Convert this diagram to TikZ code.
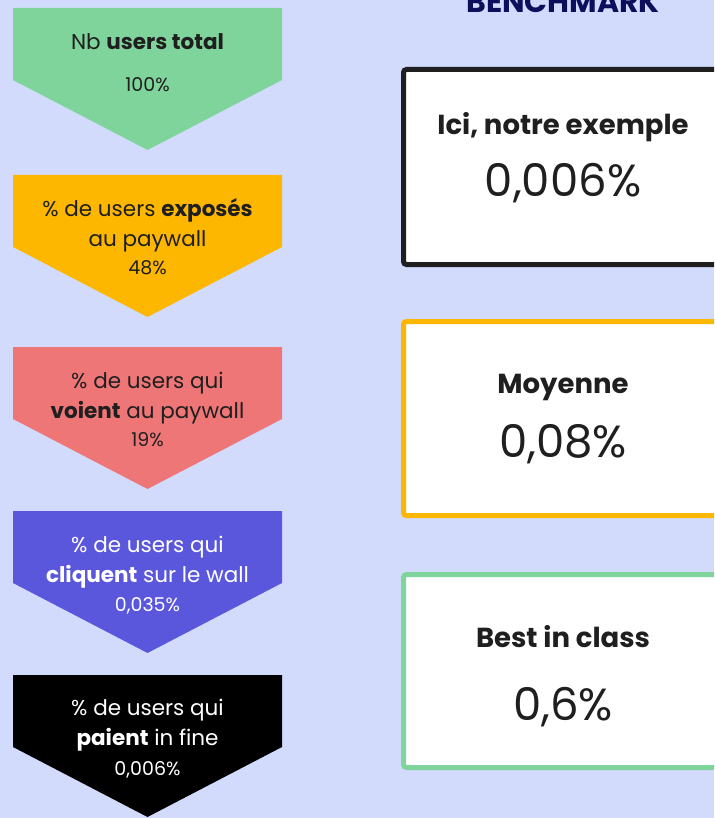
\documentclass[tikz,border=0pt]{standalone}
\usepackage{fontspec}
\setmainfont{Poppins}
\usetikzlibrary{positioning}

\definecolor{bgblue}{HTML}{D2DBFC}
\definecolor{stepgreen}{HTML}{7FD49B}
\definecolor{steporange}{HTML}{FDB700}
\definecolor{stepred}{HTML}{EF7676}
\definecolor{steppurple}{HTML}{5B57DD}
\definecolor{textdark}{HTML}{1F1F1F}
\definecolor{navy}{HTML}{0D0F5C}

\begin{document}
\begin{tikzpicture}[
    x=1pt, y=-1pt,
    steplabel/.style={
        align=center,
        inner sep=0pt,
        anchor=base,
        font=\fontsize{21.5}{30}\selectfont
    },
    steppct/.style={
        inner sep=0pt,
        anchor=base,
        font=\fontsize{19}{22}\selectfont
    },
    bench/.style={
        rectangle,
        line width=5pt,
        fill=white,
        rounded corners=3pt,
        outer sep=0pt,
        anchor=north west,
        minimum width=340pt
    },
    benchtitle/.style={
        inner sep=0pt,
        anchor=base,
        text=textdark,
        font=\fontsize{27.5}{32}\selectfont\bfseries
    },
    benchvalue/.style={
        inner sep=0pt,
        anchor=base,
        text=textdark,
        font=\fontsize{45}{50}\selectfont
    }
]
    % Background and frame
    \fill[bgblue] (0,0) rectangle (714,818);
    \useasboundingbox (0,0) rectangle (714,818);
    \clip (0,0) rectangle (714,818);

    % Funnel steps
    \foreach \top/\col in {8/stepgreen, 175/steporange, 347/stepred, 511/steppurple, 675/black}
        \fill[\col] (13,\top) -- (282,\top) -- (282,\top+72) -- (147.5,\top+142) -- (13,\top+72) -- cycle;

    % (multi-line labels sit on the baseline of their last line)
    \node[steplabel, text=textdark] (total) at (147.5,50) {Nb \textbf{users total}};
    \node[steppct, text=textdark] (totalPct) at (147.5,92) {100\%};

    \node[steplabel, text=textdark] (exposes) at (147.5,247) {\% de users \textbf{exposés}\\au paywall};
    \node[steppct, text=textdark] (exposesPct) at (147.5,274) {48\%};

    \node[steplabel, text=textdark] (voient) at (147.5,418) {\% de users qui\\\textbf{voient} au paywall};
    \node[steppct, text=textdark] (voientPct) at (147.5,446) {19\%};

    \node[steplabel, text=white] (cliquent) at (147.5,582) {\% de users qui\\\textbf{cliquent} sur le wall};
    \node[steppct, text=white] (cliquentPct) at (147.5,611) {0,035\%};

    \node[steplabel, text=white] (paient) at (147.5,745) {\% de users qui\\\textbf{paient} in fine};
    \node[steppct, text=white] (paientPct) at (147.5,775) {0,006\%};

    % Benchmark column
    \node[font=\fontsize{30}{34}\selectfont\bfseries, text=navy, inner sep=0pt, anchor=base] (benchmark) at (563,13) {BENCHMARK};

    \node[bench, draw=textdark, minimum height=195pt] (exemple) at (403.5,69.5) {};
    \node[benchtitle] (exempleTitle) at (563,135) {Ici, notre exemple};
    \node[benchvalue] (exempleValue) at (563,197) {0,006\%};

    \node[bench, draw=steporange, minimum height=194pt] (moyenne) at (403.5,321.5) {};
    \node[benchtitle] (moyenneTitle) at (563,393) {Moyenne};
    \node[benchvalue] (moyenneValue) at (563,457) {0,08\%};

    \node[bench, draw=stepgreen, minimum height=193pt] (best) at (403.5,574.5) {};
    \node[benchtitle] (bestTitle) at (563,647) {Best in class};
    \node[benchvalue] (bestValue) at (563,720) {0,6\%};

\end{tikzpicture}
\end{document}
